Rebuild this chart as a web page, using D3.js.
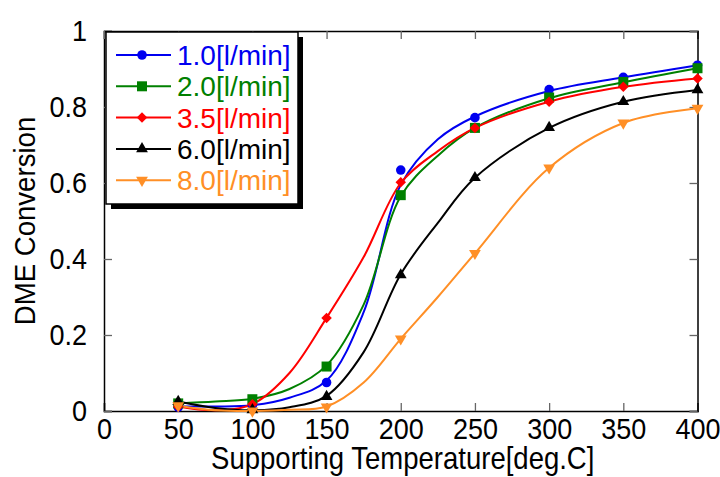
<!DOCTYPE html>
<html>
<head>
<meta charset="utf-8">
<script src="https://cdn.jsdelivr.net/npm/d3@7"></script>
<style>
  html, body { margin: 0; padding: 0; background: #fff; }
  svg { display: block; font-family: "Liberation Sans", Arial, sans-serif; }
</style>
</head>
<body>
<svg id="chart" width="720" height="477"></svg>
<script>
// measured points (temperature vs conversion)
const temps = [50, 100, 150, 200, 250, 300, 350, 400];
const flow10 = [0.010, 0.015, 0.075, 0.634, 0.772, 0.846, 0.878, 0.910];
const flow20 = [0.020, 0.031, 0.117, 0.568, 0.745, 0.825, 0.866, 0.902];
const flow35 = [0.012, 0.018, 0.245, 0.602, 0.745, 0.814, 0.853, 0.875];
const flow60 = [0.025, 0.003, 0.038, 0.358, 0.614, 0.746, 0.814, 0.845];
const flow80 = [0.014, 0.000, 0.011, 0.190, 0.415, 0.640, 0.758, 0.797];

// fitted curves
const fitTemps = [50, 75, 100, 125, 150, 175, 200, 225, 250, 300, 350, 400];
const fit10 = [0.012, 0.012, 0.015, 0.035, 0.080, 0.260, 0.595, 0.715, 0.775, 0.842, 0.878, 0.910];
const fit20 = [0.020, 0.025, 0.032, 0.058, 0.120, 0.280, 0.565, 0.672, 0.745, 0.823, 0.865, 0.902];
const fit35 = [0.012, 0.002, 0.018, 0.100, 0.245, 0.405, 0.600, 0.684, 0.745, 0.814, 0.853, 0.875];
const fit60 = [0.025, 0.008, 0.002, 0.010, 0.040, 0.155, 0.360, 0.495, 0.614, 0.745, 0.814, 0.845];
const fit80 = [0.014, 0.002, 0.000, 0.003, 0.012, 0.075, 0.190, 0.300, 0.415, 0.640, 0.758, 0.797];

const seriesNames = ["1.0[l/min]", "2.0[l/min]", "3.5[l/min]", "6.0[l/min]", "8.0[l/min]"];
const xTicks = [0, 50, 100, 150, 200, 250, 300, 350, 400];
const yTicks = [0, 0.2, 0.4, 0.6, 0.8, 1];

const series = [
    { name: seriesNames[0], pts: flow10, fit: fit10, color: '#0000f0', symbol: d3.symbolCircle, size: 72, rot: 0 },
    { name: seriesNames[1], pts: flow20, fit: fit20, color: '#008000', symbol: d3.symbolSquare, size: 100, rot: 0 },
    { name: seriesNames[2], pts: flow35, fit: fit35, color: '#ff0000', symbol: d3.symbolDiamond2, size: 70, rot: 0 },
    { name: seriesNames[3], pts: flow60, fit: fit60, color: '#000000', symbol: d3.symbolTriangle, size: 60, rot: 0 },
    { name: seriesNames[4], pts: flow80, fit: fit80, color: '#ff8f26', symbol: d3.symbolTriangle, size: 60, rot: 180 }
];

const svg = d3.select('#chart');
const plotLeft = 104, plotRight = 697.5, plotTop = 31, plotBottom = 411;

const x = d3.scaleLinear().domain([0, 400]).range([plotLeft, plotRight]);
const y = d3.scaleLinear().domain([0, 1]).range([plotBottom, plotTop]);

// the original text is a little narrower than Liberation Sans
const squeeze = 0.9;

// axes with inward ticks
const tickColor = '#666';
const gx = svg.append('g')
    .attr('transform', `translate(0,${plotBottom})`)
    .call(d3.axisBottom(x).tickValues(xTicks).tickSize(-8).tickPadding(7).tickFormat(d3.format('d')));
const gy = svg.append('g')
    .attr('transform', `translate(${plotLeft},0)`)
    .call(d3.axisLeft(y).tickValues(yTicks).tickSize(-8).tickPadding(17).tickFormat(d3.format('~g')));
const gt = svg.append('g')
    .attr('transform', `translate(0,${plotTop})`)
    .call(d3.axisTop(x).tickValues(xTicks).tickSize(-8).tickFormat(''));
const gr = svg.append('g')
    .attr('transform', `translate(${plotRight},0)`)
    .call(d3.axisRight(y).tickValues(yTicks).tickSize(-8).tickFormat(''));

[gx, gy, gt, gr].forEach(g => {
    g.select('.domain').attr('stroke', '#000').attr('stroke-width', 1.5);
    g.selectAll('.tick line').attr('stroke', tickColor).attr('stroke-width', 1.3);
    g.selectAll('.tick text').attr('fill', '#000').style('font-size', '30px')
        .style('font-family', '"Liberation Sans", Arial, sans-serif');
});
gx.selectAll('.tick text').attr('dy', '0.71em').attr('transform', `scale(${squeeze},1)`);
gy.selectAll('.tick text').each(function () {
    const t = d3.select(this);
    t.attr('x', +t.attr('x') / squeeze).attr('transform', `scale(${squeeze},1)`);
});

// axis titles
svg.append('text')
    .attr('transform', `translate(${(plotLeft + plotRight) / 2 + 2},469) scale(0.86,1)`)
    .attr('text-anchor', 'middle')
    .style('font-size', '32px')
    .text('Supporting Temperature[deg.C]');

svg.append('text')
    .attr('transform', `translate(35,221) rotate(-90) scale(0.92,1)`)
    .attr('text-anchor', 'middle')
    .style('font-size', '30px')
    .text('DME Conversion');

// curves
const line = d3.line()
    .x(d => x(d[0]))
    .y(d => y(d[1]))
    .curve(d3.curveCatmullRom.alpha(0.5));

const plot = svg.append('g');
series.forEach(s => {
    plot.append('path')
        .datum(fitTemps.map((t, i) => [t, s.fit[i]]))
        .attr('d', line)
        .attr('fill', 'none')
        .attr('stroke', s.color)
        .attr('stroke-width', 2);
});

// markers
series.forEach(s => {
    plot.selectAll(null)
        .data(temps.map((t, i) => [t, s.pts[i]]))
        .enter()
        .append('path')
        .attr('d', d3.symbol().type(s.symbol).size(s.size))
        .attr('transform', d => `translate(${x(d[0])},${y(d[1])}) rotate(${s.rot})`)
        .attr('fill', s.color);
});

// legend with drop shadow
const lg = svg.append('g');
const lx = 106, ly = 32, lw = 192, lh = 172;
lg.append('rect')
    .attr('x', lx + 5).attr('y', ly + 5)
    .attr('width', lw).attr('height', lh)
    .attr('fill', '#000');
lg.append('rect')
    .attr('x', lx).attr('y', ly)
    .attr('width', lw).attr('height', lh)
    .attr('fill', '#fff')
    .attr('stroke', '#000')
    .attr('stroke-width', 1.5);

series.forEach((s, i) => {
    const cy = 55 + i * 31.3;
    lg.append('line')
        .attr('x1', 116).attr('x2', 171)
        .attr('y1', cy).attr('y2', cy)
        .attr('stroke', s.color).attr('stroke-width', 2);
    lg.append('path')
        .attr('d', d3.symbol().type(s.symbol).size(s.size))
        .attr('transform', `translate(142,${cy}) rotate(${s.rot})`)
        .attr('fill', s.color);
    lg.append('text')
        .attr('x', 177).attr('y', cy)
        .attr('dy', '0.36em')
        .attr('fill', s.color)
        .style('font-size', '28px')
        .text(s.name);
});
</script>
</body>
</html>
